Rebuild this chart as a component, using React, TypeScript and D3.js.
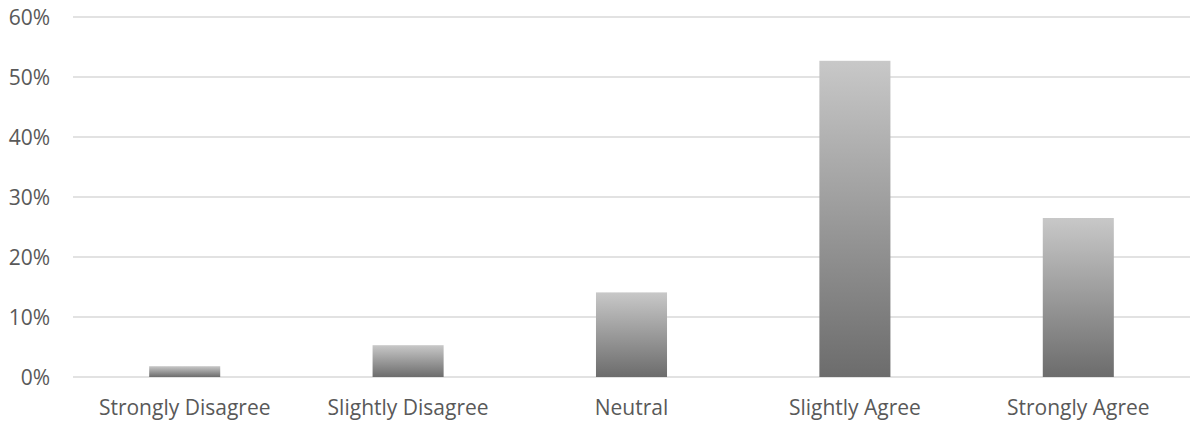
import React from "react";
import * as d3 from "d3";

const categories = [
  "Strongly Disagree",
  "Slightly Disagree",
  "Neutral",
  "Slightly Agree",
  "Strongly Agree",
];
const shares = [0.018, 0.053, 0.141, 0.527, 0.265];
const yTicks = [0, 0.1, 0.2, 0.3, 0.4, 0.5, 0.6];

const W = 1193;
const H = 424;
const FONT = "'Open Sans', 'Noto Sans', sans-serif";
const TEXT = "#595959";

export default function App() {
  const x = d3
    .scaleBand<string>()
    .domain(categories)
    .range([73, 1190])
    .paddingInner(0.682)
    .paddingOuter(0.341);
  const y = d3.scaleLinear().domain([0, 0.6]).range([377, 17]);
  const fmt = d3.format(".0%");

  return (
    <svg
      width={W}
      height={H}
      style={{ position: "absolute", left: 0, top: 0, background: "#fff" }}
    >
      <defs>
        <linearGradient id="barFill" x1="0" y1="0" x2="0" y2="1">
          <stop offset="0%" stopColor="#c8c8c8" />
          <stop offset="100%" stopColor="#6c6c6c" />
        </linearGradient>
      </defs>

      {yTicks.map((t) => (
        <g key={t}>
          <line
            x1={73}
            x2={1190}
            y1={y(t)}
            y2={y(t)}
            stroke="#d9d9d9"
            strokeWidth={1.3}
          />
          <text
            x={50}
            y={y(t)}
            dy="0.36em"
            textAnchor="end"
            fontFamily={FONT}
            fontSize={21}
            fill={TEXT}
          >
            {fmt(t)}
          </text>
        </g>
      ))}

      {categories.map((c, i) => (
        <rect
          key={c}
          x={x(c)}
          y={y(shares[i])}
          width={x.bandwidth()}
          height={y(0) - y(shares[i])}
          fill="url(#barFill)"
        />
      ))}

      {categories.map((c) => (
        <text
          key={c}
          x={(x(c) as number) + x.bandwidth() / 2}
          y={415}
          textAnchor="middle"
          fontFamily={FONT}
          fontSize={21}
          fill={TEXT}
        >
          {c}
        </text>
      ))}
    </svg>
  );
}
